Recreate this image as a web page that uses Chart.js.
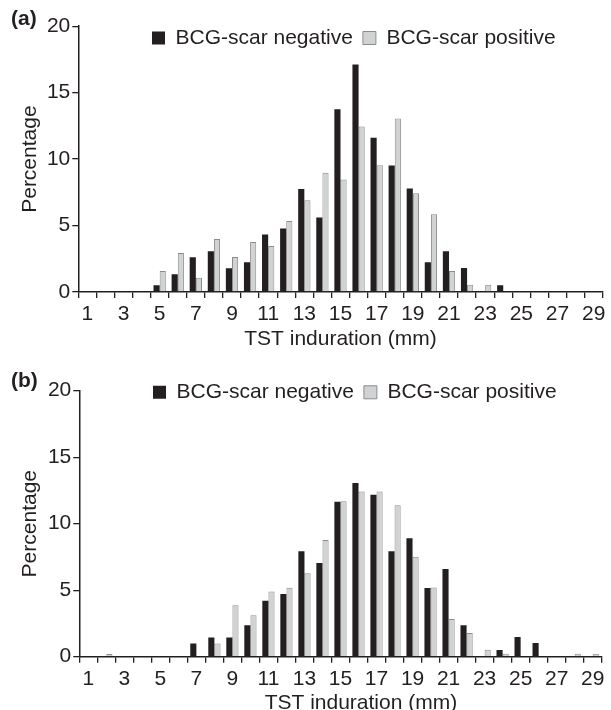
<!DOCTYPE html>
<html>
<head>
<meta charset="utf-8">
<title>TST induration by BCG scar</title>
<script src="https://cdn.jsdelivr.net/npm/chart.js@4.4.1/dist/chart.umd.min.js"></script>
<style>
  html, body { margin: 0; padding: 0; background: #fff; overflow: hidden; }
  canvas { display: block; }
</style>
</head>
<body>
<canvas id="chartA" width="611" height="352"></canvas>
<canvas id="chartB" width="611" height="358"></canvas>
<script>
// ---- data (% of children per mm of induration) ----
const sizes = ["1", "2", "3", "4", "5", "6", "7", "8", "9", "10", "11", "12", "13", "14", "15",
  "16", "17", "18", "19", "20", "21", "22", "23", "24", "25", "26", "27", "28", "29"];
const seriesNames = ["BCG-scar negative", "BCG-scar positive"];
const yTicks = [0, 5, 10, 15, 20];

// panel (a)
const negativeA = [0, 0, 0, 0, 0.5, 1.33, 2.61, 3.06, 1.78, 2.23, 4.32, 4.77, 7.75, 5.6, 13.75,
  17.11, 11.6, 9.51, 7.78, 2.23, 3.06, 1.8, 0, 0.5, 0, 0, 0, 0, 0];
const positiveA = [0, 0, 0, 0, 1.58, 2.94, 1.08, 3.99, 2.63, 3.76, 3.46, 5.35, 6.9, 8.98, 8.46,
  12.45, 9.54, 13.05, 7.43, 5.85, 1.58, 0.55, 0.55, 0, 0, 0, 0, 0, 0];

// panel (b)
const negativeB = [0, 0, 0, 0, 0, 0, 1.0, 1.45, 1.45, 2.36, 4.21, 4.71, 7.92, 7.04, 11.65,
  13.06, 12.18, 7.92, 8.9, 5.16, 6.59, 2.36, 0, 0.5, 1.48, 1.03, 0, 0, 0];
const positiveB = [0, 0.2, 0, 0, 0, 0, 0, 1.0, 3.86, 3.11, 4.91, 5.19, 6.27, 8.77, 11.68,
  12.43, 12.43, 11.38, 7.52, 5.21, 2.83, 1.78, 0.53, 0.23, 0, 0, 0, 0.23, 0.23];

// ---- look ----
const ink = "#231f20";
const greyFill = "#d1d2d4";
const greyEdge = "#8b8c8e";

Chart.defaults.font.family = "'Liberation Sans', Arial, Helvetica, sans-serif";
Chart.defaults.font.size = 21;
Chart.defaults.color = ink;

// put the legend inside the plot area, like the printed figure
// (it only reserves 1px in the layout, then gets moved and given room to draw)
const legendSpot = {
  id: "legendSpot",
  afterLayout(chart, args, opts) {
    const lg = chart.legend;
    lg.left = opts.x;
    lg.right = chart.width;
    lg.width = lg.right - lg.left;
    lg.top = opts.y;
    lg.height = 45;
    lg.bottom = opts.y + lg.height;
  }
};

function makePanel(canvasId, letter, negValues, posValues, geo) {
  return new Chart(document.getElementById(canvasId), {
    type: "bar",
    data: {
      labels: sizes,
      datasets: [
        {
          label: seriesNames[0],
          data: negValues,
          backgroundColor: ink,
          borderWidth: 0,
        },
        {
          label: seriesNames[1],
          data: posValues,
          backgroundColor: greyFill,
          borderColor: greyEdge,
          borderWidth: 1,
        },
      ],
    },
    plugins: [legendSpot],
    options: {
      responsive: false,
      animation: false,
      events: [],
      layout: {
        padding: { left: 11, right: geo.padRight, top: geo.padTop, bottom: 0 },
      },
      datasets: {
        bar: {
          categoryPercentage: 0.68,
          barPercentage: 1.0,
          inflateAmount: 0,
        },
      },
      scales: {
        x: {
          afterFit(scale) {
            scale.height = geo.xHeight;
          },
          grid: {
            display: true,
            offset: true,
            drawOnChartArea: false,
            drawTicks: true,
            tickLength: 6,
            color: ink,
            lineWidth: 1.3,
          },
          border: { display: true, color: ink, width: 1.5 },
          ticks: {
            autoSkip: false,
            maxRotation: 0,
            minRotation: 0,
            padding: 4,
            callback(value, index) {
              return index % 2 === 0 ? this.getLabelForValue(value) : "";
            },
          },
          title: {
            display: true,
            text: geo.xTitle,
            padding: { top: 0, bottom: geo.xTitleBottom },
          },
        },
        y: {
          min: yTicks[0],
          max: yTicks[yTicks.length - 1],
          afterFit(scale) {
            scale.width = geo.yWidth;
          },
          afterBuildTicks(scale) {
            scale.ticks = yTicks.map((v) => ({ value: v }));
          },
          grid: {
            display: true,
            drawOnChartArea: false,
            drawTicks: true,
            tickLength: 6,
            color: ink,
            lineWidth: 1.3,
          },
          border: { display: true, color: ink, width: 1.5 },
          ticks: { padding: 2 },
          title: {
            display: true,
            text: "Percentage",
            padding: { top: 6.4, bottom: 0 },
          },
        },
      },
      plugins: {
        title: {
          display: true,
          text: letter,
          align: "start",
          color: ink,
          font: { size: 21, weight: "bold" },
          padding: { top: geo.letterTop, bottom: -geo.letterTop },
        },
        legend: {
          display: true,
          position: "top",
          align: "start",
          maxHeight: 1,
          labels: {
            boxWidth: 13,
            boxHeight: 13,
            padding: 10,
            color: ink,
            font: { size: 21 },
          },
        },
        legendSpot: { x: geo.legendX, y: geo.legendY },
        tooltip: { enabled: false },
      },
    },
  });
}

// ---- panel (a) ----
const chartA = makePanel("chartA", "(a)", negativeA, positiveA, {
  padTop: 0,
  padRight: 8.3,
  yWidth: 67.3,
  xHeight: 60,
  xTitle: "TST induration (mm)",
  xTitleBottom: 0,
  letterTop: 6.8,
  legendX: 142,
  legendY: 17.5,
});

// ---- panel (b) ----
const chartB = makePanel("chartB", "(b)", negativeB, positiveB, {
  padTop: 12.5,
  padRight: 9.3,
  yWidth: 68.3,
  xHeight: 53.3,
  xTitle: "       TST induration (mm)",
  xTitleBottom: -6,
  letterTop: 4.1,
  legendX: 143,
  legendY: 19.8,
});
</script>
</body>
</html>
